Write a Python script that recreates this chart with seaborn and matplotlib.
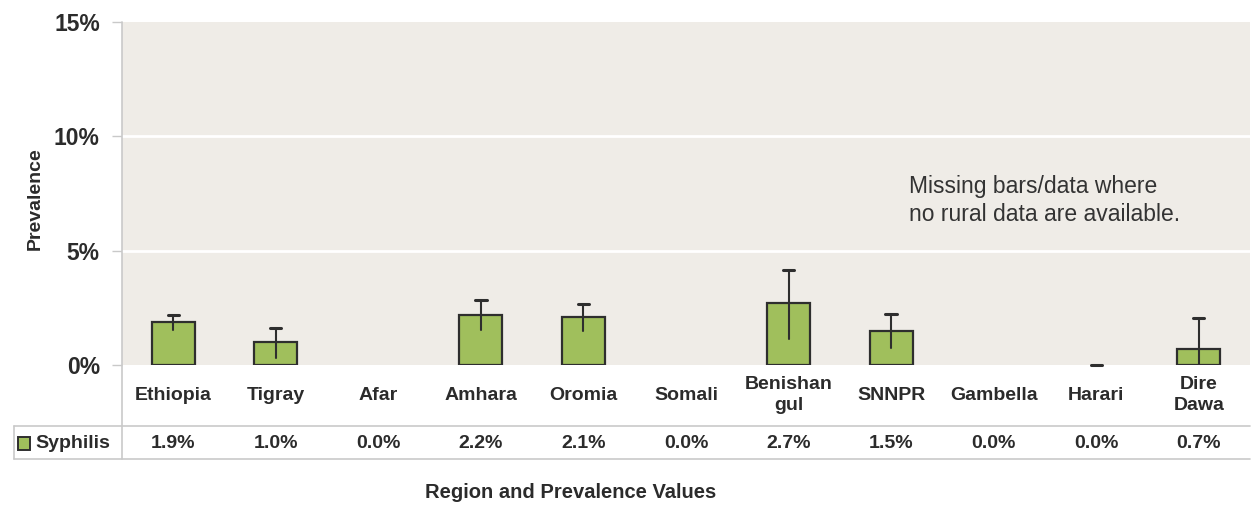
import numpy as np
import matplotlib
matplotlib.use("Agg")
import matplotlib.pyplot as plt
import matplotlib.transforms as mtransforms
from matplotlib.lines import Line2D
from matplotlib.patches import Rectangle
import seaborn as sns

regions = ["Ethiopia", "Tigray", "Afar", "Amhara", "Oromia", "Somali",
           "Benishan\ngul", "SNNPR", "Gambella", "Harari", "Dire\nDawa"]
prevalence = [1.9, 1.0, 0.0, 2.2, 2.1, 0.0, 2.7, 1.5, 0.0, 0.0, 0.7]
err_low = [1.53, 0.32, np.nan, 1.53, 1.48, np.nan, 1.12, 0.76, np.nan, 0.0, 0.0]
err_high = [2.18, 1.63, np.nan, 2.84, 2.65, np.nan, 4.15, 2.21, np.nan, 0.0, 2.07]
series_name = "Syphilis"
yticks = [0, 5, 10, 15]

W, H = 1253, 508
sns.set_theme(style="white")
plt.rcParams["font.family"] = ["Liberation Sans", "DejaVu Sans"]
txt = "#2b2b2b"
grey = "#c9c9c9"
green = "#a0bf5c"

fig = plt.figure(figsize=(W / 100, H / 100), dpi=100)
fig.patch.set_facecolor("white")
L, R, T, B = 122, 1250, 22, 365
ax = fig.add_axes([L / W, 1 - B / H, (R - L) / W, (B - T) / H])
ax.set_facecolor("#efece7")

sns.barplot(x=list(range(len(regions))), y=prevalence, color=green,
            edgecolor="#2e2e2e", linewidth=1.6, width=0.42, saturation=1,
            ax=ax, zorder=3)
# no bar is drawn where there is no data
for p in ax.patches:
    if p.get_height() == 0:
        p.set_visible(False)

# error bars: upper part capped, lower part plain
xs = np.arange(len(regions))
for x, v, lo, hi in zip(xs, prevalence, err_low, err_high):
    if np.isnan(hi):
        continue
    ax.plot([x, x], [lo, hi], color="#2e2e2e", lw=1.5, zorder=4)
    ax.plot([x - 0.055, x + 0.055], [hi, hi], color="#2e2e2e", lw=2.2, zorder=4,
            clip_on=False)

ax.set_xlim(-0.5, len(regions) - 0.5)
ax.set_ylim(0, 15)
ax.set_yticks(yticks)
ax.set_yticklabels([f"{t}%" for t in yticks], fontsize=16.5, fontweight="bold", color=txt)
ax.tick_params(axis="y", length=7, color=grey, width=1, pad=9, left=True)
ax.set_xticks([])
ax.set_xlabel("")
for y in [5, 10]:
    ax.axhline(y, color="white", lw=2, zorder=1)
for s in ["top", "right", "bottom", "left"]:
    ax.spines[s].set_visible(False)

ax.text(7.17, 7.2, "Missing bars/data where\nno rural data are available.",
        fontsize=16.5, color="#333333", va="center", ha="left", linespacing=1.3, zorder=5)

# data table under the chart
def fx(px):
    return px / W

def fy(py):
    return 1 - py / H

fig.add_artist(Line2D([fx(L), fx(L)], [fy(T), fy(459)], color=grey, lw=1.2))
fig.add_artist(Line2D([fx(14), fx(R)], [fy(426), fy(426)], color=grey, lw=1.2))
fig.add_artist(Line2D([fx(14), fx(R)], [fy(459), fy(459)], color=grey, lw=1.2))
fig.add_artist(Line2D([fx(14), fx(14)], [fy(426), fy(459)], color=grey, lw=1.2))

trans = mtransforms.blended_transform_factory(ax.transData, fig.transFigure)
for x, name, v in zip(xs, regions, prevalence):
    ax.text(x, fy(395), name, transform=trans, ha="center", va="center",
            fontsize=14, fontweight="bold", color=txt, linespacing=1.25, clip_on=False)
    ax.text(x, fy(443), f"{v:.1f}%", transform=trans, ha="center", va="center",
            fontsize=14, fontweight="bold", color=txt, clip_on=False)

fig.add_artist(Rectangle((fx(18), fy(450)), 12 / W, 13 / H, facecolor=green,
                         edgecolor="#2e2e2e", lw=1.4, transform=fig.transFigure))
fig.text(fx(35), fy(443), series_name, ha="left", va="center", fontsize=14,
         fontweight="bold", color=txt)

fig.text(fx(571), fy(493), "Region and Prevalence Values", ha="center", va="center",
         fontsize=14.5, fontweight="bold", color=txt)
fig.text(fx(35), fy(199), "Prevalence", ha="center", va="center", rotation=90,
         fontsize=14, fontweight="bold", color=txt)

fig.savefig("out.png", dpi=100)
